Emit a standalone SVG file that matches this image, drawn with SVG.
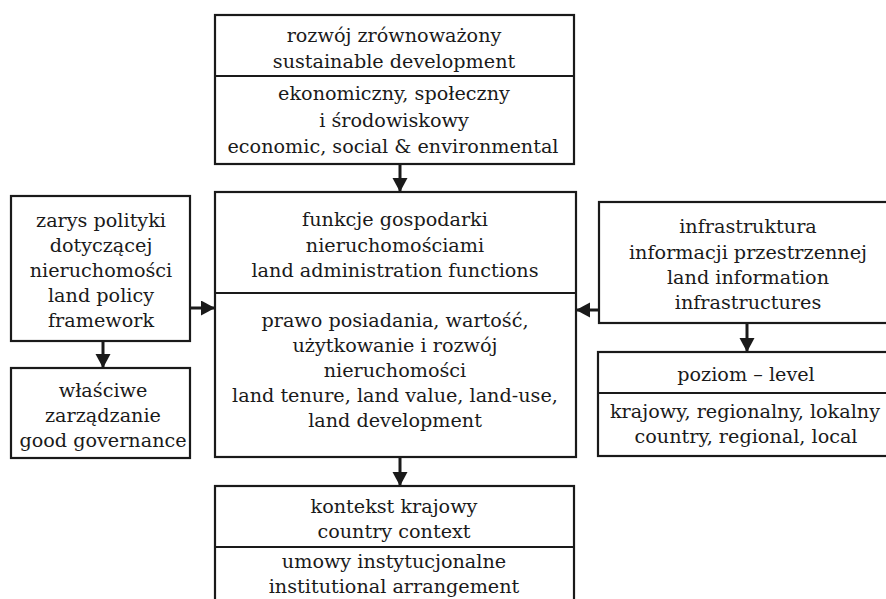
<svg xmlns="http://www.w3.org/2000/svg" width="886" height="599" viewBox="0 0 886 599">
<style>
.box{fill:#fff;stroke:#1a1a1a;stroke-width:2.2}
.div{stroke:#1a1a1a;stroke-width:2}
.t{font-family:"DejaVu Serif","Liberation Serif",serif;font-size:19.2px;fill:#1a1a1a;text-anchor:middle}
.c{stroke:#1a1a1a;stroke-width:3;fill:none}
</style>
<defs>
<marker id="ah" markerUnits="userSpaceOnUse" markerWidth="16" markerHeight="16" refX="14" refY="7.5" orient="auto">
<path d="M0,0 L14,7.5 L0,15 Z" fill="#1a1a1a"/>
</marker>
</defs>
<rect width="886" height="599" fill="#fff"/>
<g id="sustainable">
<rect class="box" x="215" y="15" width="359" height="149"/>
<line class="div" x1="215" y1="76" x2="574" y2="76"/>
<text class="t" x="394" y="42">rozwój zrównoważony</text>
<text class="t" x="394" y="68">sustainable development</text>
<text class="t" x="394" y="100">ekonomiczny, społeczny</text>
<text class="t" x="394" y="127">i środowiskowy</text>
<text class="t" x="393" y="153">economic, social &amp; environmental</text>
</g>
<g id="functions">
<rect class="box" x="215" y="192" width="361" height="265"/>
<line class="div" x1="215" y1="293" x2="576" y2="293"/>
<text class="t" x="395" y="226">funkcje gospodarki</text>
<text class="t" x="395" y="252">nieruchomościami</text>
<text class="t" x="395" y="277">land administration functions</text>
<text class="t" x="395" y="327">prawo posiadania, wartość,</text>
<text class="t" x="395" y="352">użytkowanie i rozwój</text>
<text class="t" x="395" y="377">nieruchomości</text>
<text class="t" x="395" y="402">land tenure, land value, land-use,</text>
<text class="t" x="395" y="427">land development</text>
</g>
<g id="policy">
<rect class="box" x="11" y="196" width="179" height="145"/>
<text class="t" x="101" y="227">zarys polityki</text>
<text class="t" x="101" y="252">dotyczącej</text>
<text class="t" x="101" y="277">nieruchomości</text>
<text class="t" x="101" y="302">land policy</text>
<text class="t" x="101" y="327">framework</text>
</g>
<g id="governance">
<rect class="box" x="11" y="368" width="179" height="90"/>
<text class="t" x="103" y="397">właściwe</text>
<text class="t" x="103" y="422">zarządzanie</text>
<text class="t" x="103" y="447">good governance</text>
</g>
<g id="infrastructure">
<rect class="box" x="599" y="202" width="300" height="121"/>
<text class="t" x="748" y="233">infrastruktura</text>
<text class="t" x="748" y="259">informacji przestrzennej</text>
<text class="t" x="748" y="284">land information</text>
<text class="t" x="748" y="309">infrastructures</text>
</g>
<g id="level">
<rect class="box" x="598" y="352" width="300" height="104"/>
<line class="div" x1="598" y1="393" x2="898" y2="393"/>
<text class="t" x="746" y="381">poziom – level</text>
<text class="t" x="745" y="418">krajowy, regionalny, lokalny</text>
<text class="t" x="746" y="443">country, regional, local</text>
</g>
<g id="context">
<rect class="box" x="215" y="486" width="359" height="130"/>
<line class="div" x1="215" y1="547" x2="574" y2="547"/>
<text class="t" x="394" y="513">kontekst krajowy</text>
<text class="t" x="394" y="538">country context</text>
<text class="t" x="394" y="568">umowy instytucjonalne</text>
<text class="t" x="394" y="593">institutional arrangement</text>
</g>
<g id="connectors">
<line class="c" x1="400" y1="164" x2="400" y2="192" marker-end="url(#ah)"/>
<line class="c" x1="400" y1="457" x2="400" y2="486" marker-end="url(#ah)"/>
<line class="c" x1="190" y1="308" x2="215" y2="308" marker-end="url(#ah)"/>
<line class="c" x1="599" y1="310" x2="576" y2="310" marker-end="url(#ah)"/>
<line class="c" x1="103" y1="341" x2="103" y2="368" marker-end="url(#ah)"/>
<line class="c" x1="747" y1="323" x2="747" y2="352" marker-end="url(#ah)"/>
</g>
</svg>
